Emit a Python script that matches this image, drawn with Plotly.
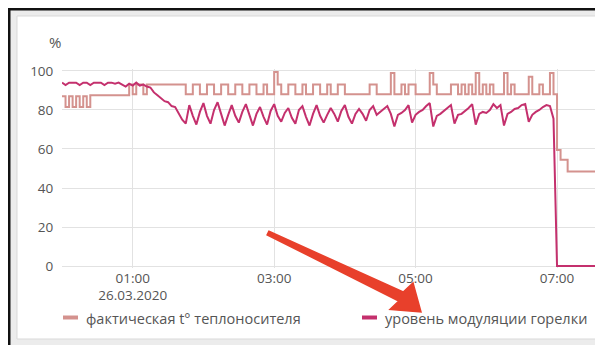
import plotly.graph_objects as go
import pandas as pd

# ---------------- data (3-minute samples from 26.03.2020 00:00) ----------------
start_time = "2020-03-26 00:00"
end_time = "2020-03-26 07:39"
sample_step = "3min"

coolant_temp = [
    87, 81.5, 87, 81.5, 87, 81.5, 87, 81.5,
    87.5, 87.5, 87.5, 87.5, 87.5, 87.5, 87.5, 87.5, 87.5, 87.5, 87.5,
    93, 88, 93, 93, 88, 93, 93,
    93, 93, 93, 93, 93, 93, 93, 93, 93,
    88, 88,
    93, 93, 88, 88,
    93, 93, 88, 88,
    93, 93, 88, 88,
    93, 93, 88, 88,
    93, 93, 88, 88,
    93, 88, 88,
    99.5, 93, 88, 88,
    93, 93, 88, 88,
    93, 88, 88, 93, 93, 88, 88,
    93, 88, 88, 93, 93, 88, 88,
    88, 88, 88, 88, 88,
    93, 93, 88, 88, 88, 88,
    99, 88, 88, 93, 88, 93, 93, 88, 88, 88, 88,
    99, 93, 88, 88, 88, 88,
    93, 93, 88, 93, 88, 93, 88,
    99, 88, 93, 88, 93, 88, 88, 88,
    99, 88, 93, 88, 88, 88, 88,
    97, 88, 88, 93, 88, 88,
    99, 88,
    59.5, 54.5, 54.5, 48.5,
    48.5, 48.5, 48.5, 48.5, 48.5, 48.5, 48.5, 48.5,
    42.5, 42.5,
]

burner_modulation = [
    94, 92.8, 94, 94, 94, 92.8, 94, 94, 92.8, 94, 94, 94, 92.8, 94, 94, 93.5, 94, 93, 92,
    93.5, 92.5, 94, 92.5, 93, 92, 91.5, 89, 87.5, 86, 84.5, 84, 82, 81.5, 78, 75, 73, 82.5, 77,
    72.5, 79, 83.5, 77, 73, 80, 84, 78, 72, 77.5, 82.5, 77, 73.5, 79, 83, 77.5, 72, 78, 81.5,
    76.5, 72.5, 79.5, 83, 77, 74, 78.5, 81, 76, 73, 80, 82, 76.5, 72, 78, 82.5, 77, 73.5, 77.5,
    81, 78, 74, 79.5, 82.5, 76.5, 73, 78, 80.5, 78, 74.5, 80, 82, 77.5,
    79, 80, 82, 78, 71.5, 77.5, 78.5, 80, 82.5, 73.5, 77.5, 79, 80, 82, 83.5,
    71.5, 77, 78, 79.5, 81, 82.5, 73, 77.5, 78, 79.5, 81, 83, 72.5, 78, 79,
    78.5, 80, 83, 81, 82.5, 72, 78, 79, 80.5, 81, 82.5, 83, 74, 77.5, 79,
    80, 81.5, 82.5, 82, 75.5,
    0, 0, 0, 0, 0, 0, 0, 0, 0, 0, 0, 0, 0, 0,
]

series_names = ["фактическая t° теплоносителя", "уровень модуляции горелки"]
series_colors = ["#d4928e", "#c4306d"]

x_tick_vals = ["2020-03-26 01:00", "2020-03-26 03:00", "2020-03-26 05:00", "2020-03-26 07:00"]
x_tick_text = ["01:00<br>26.03.2020", "03:00", "05:00", "07:00"]
y_tick_vals = [0, 20, 40, 60, 80, 100]
y_unit = "%"

times = pd.date_range(start_time, periods=len(coolant_temp), freq=sample_step)

# ---------------- layout helpers ----------------
# the page body has an 8px margin, so the figure is sized/placed to fill the window from (8, 8)
OFF = 8
W, H = 603 - OFF, 345 - OFF
ML, MR, MT, MB = 62 - OFF, 0, 69 - OFF, 77
PW, PH = W - ML - MR, H - MT - MB


def px(x):  # page pixel -> paper x
    return (x - OFF - ML) / PW


def py(y):  # page pixel -> paper y
    return (H - MB - (y - OFF)) / PH


FONT = "Open Sans, Noto Sans, sans-serif"
TXT = "#555555"
GRID = "#e2e2e2"

fig = go.Figure()
fig.add_trace(go.Scatter(
    x=times, y=coolant_temp, name=series_names[0], mode="lines",
    line=dict(color=series_colors[0], width=2, shape="hv"), showlegend=False,
))
fig.add_trace(go.Scatter(
    x=times, y=burner_modulation, name=series_names[1], mode="lines",
    line=dict(color=series_colors[1], width=2), showlegend=False,
))

# frame / panel
shapes = [
    dict(type="rect", xref="paper", yref="paper", x0=px(8), x1=px(610), y0=py(350), y1=py(8),
         fillcolor="#ececec", line_width=0, layer="below"),
    dict(type="rect", xref="paper", yref="paper", x0=px(17), x1=px(612), y0=py(339), y1=py(16),
         fillcolor="#ffffff", line=dict(color="#d9d9d9", width=1), layer="below"),
    dict(type="rect", xref="paper", yref="paper", x0=px(8), x1=px(610), y0=py(10.5), y1=py(8),
         fillcolor="#111111", line_width=0, layer="above"),
    dict(type="rect", xref="paper", yref="paper", x0=px(8), x1=px(10.5), y0=py(350), y1=py(8),
         fillcolor="#111111", line_width=0, layer="above"),
    # legend swatches
    dict(type="rect", xref="paper", yref="paper", x0=px(63), x1=px(78), y0=py(319.5), y1=py(315.5),
         fillcolor=series_colors[0], line_width=0, layer="above"),
    dict(type="rect", xref="paper", yref="paper", x0=px(362), x1=px(377), y0=py(319.5), y1=py(315.5),
         fillcolor=series_colors[1], line_width=0, layer="above"),
]

# red arrow (screenshot annotation)
arrow_pts = [(268.9, 231.2), (403.2, 292), (413, 283), (421, 312), (390, 309.5), (398.8, 301), (267.1, 234.8)]
path = "M " + " L ".join(f"{px(a):.5f},{py(b):.5f}" for a, b in arrow_pts) + " Z"
shapes.append(dict(type="path", xref="paper", yref="paper", path=path,
                   fillcolor="#e8402b", line=dict(color="#e8402b", width=1.5), layer="above"))

annotations = [
    dict(text=y_unit, xref="paper", yref="paper", x=px(55), y=py(42), xanchor="center", yanchor="middle",
         showarrow=False, font=dict(family=FONT, size=15, color=TXT)),
    dict(text=series_names[0], xref="paper", yref="paper", x=px(84), y=py(318), xanchor="left",
         yanchor="middle", showarrow=False, font=dict(family=FONT, size=14.5, color=TXT)),
    dict(text=series_names[1], xref="paper", yref="paper", x=px(383), y=py(318), xanchor="left",
         yanchor="middle", showarrow=False, font=dict(family=FONT, size=14.5, color=TXT)),
]

fig.update_layout(
    width=W, height=H,
    margin=dict(l=ML, r=MR, t=MT, b=MB, pad=0, autoexpand=False),
    paper_bgcolor="#ffffff", plot_bgcolor="rgba(0,0,0,0)",
    font=dict(family=FONT, size=13.5, color=TXT),
    showlegend=False,
    shapes=shapes, annotations=annotations,
    xaxis=dict(type="date", range=[start_time, end_time], tickvals=x_tick_vals, ticktext=x_tick_text,
               showgrid=True, gridcolor=GRID, gridwidth=1, zeroline=False, showline=False,
               ticks="", ticklabelstandoff=0,
               tickfont=dict(family=FONT, size=13.5, color=TXT), fixedrange=True),
    yaxis=dict(range=[-1, 101], tickvals=y_tick_vals, showgrid=True, gridcolor=GRID, gridwidth=1,
               zeroline=False, showline=False, ticks="outside", ticklen=5, tickcolor="rgba(0,0,0,0)",
               tickfont=dict(family=FONT, size=13.5, color=TXT), fixedrange=True),
)

fig.write_html("out.html")
